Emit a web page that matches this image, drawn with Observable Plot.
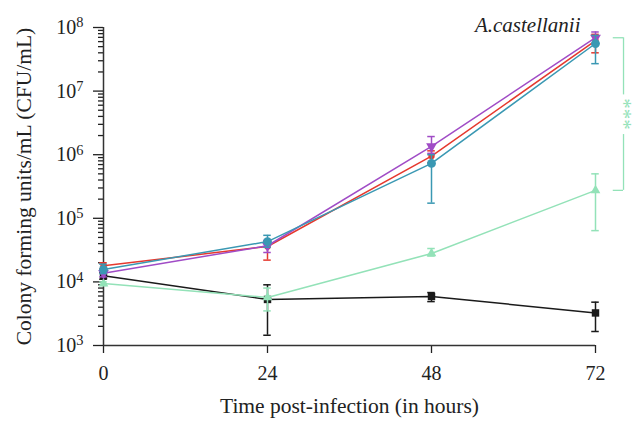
<!DOCTYPE html>
<html><head><meta charset="utf-8">
<script src="https://cdn.jsdelivr.net/npm/d3@7"></script>
<script src="https://cdn.jsdelivr.net/npm/@observablehq/plot@0.6"></script>
<style>body{margin:0;background:#fff}svg{font-family:"Liberation Serif",serif}</style>
</head><body><div id="chart"></div>
<script>
const times = [0, 24, 48, 72];
const seriesNames = ["black", "green", "red", "purple", "teal"];
const colors = {black: "#1a1a1a", green: "#93e2b8", red: "#e5392e", purple: "#a04cc6", teal: "#3a98b3"};
const triangleDown = {
  draw(ctx, size) {
    const y = -Math.sqrt(size / (Math.sqrt(3) * 3));
    ctx.moveTo(0, -y * 2);
    ctx.lineTo(-Math.sqrt(3) * y, y);
    ctx.lineTo(Math.sqrt(3) * y, y);
    ctx.closePath();
  }
};
const symbols = {black: "square", green: "triangle", red: "circle", purple: triangleDown, teal: "circle"};
const sizes = {black: 4.2, green: 3.6, red: 3.2, purple: 4, teal: 4.4};
const meanBlack = [1.25e4, 5.3e3, 5.9e3, 3.25e3];
const loBlack = [1.1e4, 1.45e3, 4.9e3, 1.66e3];
const hiBlack = [1.4e4, 9.0e3, 6.8e3, 4.8e3];
const meanGreen = [9.4e3, 5.7e3, 2.8e4, 2.75e5];
const loGreen = [8.8e3, 3.5e3, 2.55e4, 6.4e4];
const hiGreen = [1.0e4, 8.0e3, 3.35e4, 5.0e5];
const meanRed = [1.8e4, 3.6e4, 9.5e5, 6.2e7];
const loRed = [1.6e4, 2.2e4, 7.5e5, 4.0e7];
const hiRed = [2.0e4, 4.4e4, 1.15e6, 7.8e7];
const meanPurple = [1.37e4, 3.7e4, 1.35e6, 6.9e7];
const loPurple = [1.2e4, 2.9e4, 1.05e6, 5.5e7];
const hiPurple = [1.55e4, 4.5e4, 1.93e6, 8.5e7];
const meanTeal = [1.57e4, 4.3e4, 7.3e5, 5.6e7];
const loTeal = [1.35e4, 3.5e4, 1.73e5, 2.7e7];
const hiTeal = [1.9e4, 5.4e4, 1.0e6, 7.5e7];
const yMajorTicks = [1e3, 1e4, 1e5, 1e6, 1e7, 1e8];
const xTicks = [0, 24, 48, 72];
const title = "A.castellanii";
const xLabel = "Time post-infection (in hours)";
const yLabel = "Colony forming units/mL (CFU/mL)";
const sigLabel = "***";

const raw = {
  black: [meanBlack, loBlack, hiBlack],
  green: [meanGreen, loGreen, hiGreen],
  red: [meanRed, loRed, hiRed],
  purple: [meanPurple, loPurple, hiPurple],
  teal: [meanTeal, loTeal, hiTeal]
};
const rows = [];
for (const s of seriesNames) {
  const [m, lo, hi] = raw[s];
  times.forEach((t, i) => rows.push({s, t, v: m[i], lo: lo[i], hi: hi[i]}));
}
const minorTicks = [];
for (let e = 3; e < 8; e++) for (let k = 2; k <= 9; k++) minorTicks.push(k * 10 ** e);

const bracketTop = d3.max(rows.filter(d => d.t === 72 && d.s !== "green" && d.s !== "black"), d => d.v);
const bracketBot = meanGreen[3];
const mid = Math.sqrt(bracketTop * bracketBot);
const gapHi = mid * 2.0, gapLo = mid / 2.1;
const capW = 0.55;
const bx = 76.1;

const marks = [];
for (const s of seriesNames) {
  const d = rows.filter(r => r.s === s);
  marks.push(Plot.ruleX(d, {x: "t", y1: "lo", y2: "hi", stroke: colors[s], strokeWidth: 1.5}));
  marks.push(Plot.ruleY(d, {y: "lo", x1: r => r.t - capW, x2: r => r.t + capW, stroke: colors[s], strokeWidth: 1.5}));
  marks.push(Plot.ruleY(d, {y: "hi", x1: r => r.t - capW, x2: r => r.t + capW, stroke: colors[s], strokeWidth: 1.5}));
  marks.push(Plot.line(d, {x: "t", y: "v", stroke: colors[s], strokeWidth: 1.5}));
  marks.push(Plot.dot(d, {x: "t", y: "v", fill: colors[s], symbol: symbols[s], r: sizes[s], stroke: "none"}));
}
const green = colors.green;
marks.push(Plot.ruleY([bracketTop, bracketBot], {y: d => d, x1: bx - 1.5, x2: bx, stroke: green, strokeWidth: 1.3}));
marks.push(Plot.ruleX([[bracketTop, gapHi], [gapLo, bracketBot]], {x: () => bx, y1: d => d[0], y2: d => d[1], stroke: green, strokeWidth: 1.3}));
marks.push(Plot.text([sigLabel], {x: () => bx, y: () => mid, text: d => d, rotate: 90, fill: green, fontSize: 21}));
marks.push(Plot.text([title], {frameAnchor: "top-right", dx: -15, dy: -10, text: d => d, fontSize: 21, fontStyle: "italic", textAnchor: "end"}));

const chart = Plot.plot({
  width: 635, height: 423,
  marginTop: 27, marginBottom: 78, marginLeft: 103, marginRight: 40,
  style: {fontFamily: "Liberation Serif, serif", fontSize: "20px", color: "#222", background: "#fff"},
  x: {domain: [0, 72]},
  y: {type: "log", domain: [1e3, 1e8]},
  marks: [
    Plot.axisY({ticks: minorTicks, tickSize: 5, tickFormat: () => "", strokeWidth: 1.3, label: null}),
    Plot.axisY({ticks: yMajorTicks, tickSize: 10, tickPadding: 10, strokeWidth: 1.3, tickFormat: d => String(Math.round(Math.log10(d))), label: null, fontSize: 20}),
    Plot.axisX({ticks: xTicks, tickSize: 8, tickPadding: 12, strokeWidth: 1.3, label: null, fontSize: 20}),
    Plot.ruleX([0], {stroke: "#333", strokeWidth: 1.5}),
    Plot.ruleY([1e3], {stroke: "#333", strokeWidth: 1.5}),
    Plot.text([xLabel], {frameAnchor: "bottom", dy: 67, text: d => d, fontSize: 21.5}),
    Plot.text([yLabel], {frameAnchor: "left", dx: -79, rotate: -90, textAnchor: "middle", text: d => d, fontSize: 21.5}),
    ...marks
  ]
});
document.getElementById("chart").appendChild(chart);
// superscript exponents on y tick labels
chart.querySelectorAll('g[aria-label="y-axis tick label"] text').forEach(t => {
  const e = t.textContent;
  if (!e) return;
  t.textContent = "10";
  const ts = document.createElementNS("http://www.w3.org/2000/svg", "tspan");
  ts.setAttribute("dy", "-0.45em");
  ts.setAttribute("font-size", "0.72em");
  ts.textContent = e;
  t.appendChild(ts);
});
</script></body></html>
